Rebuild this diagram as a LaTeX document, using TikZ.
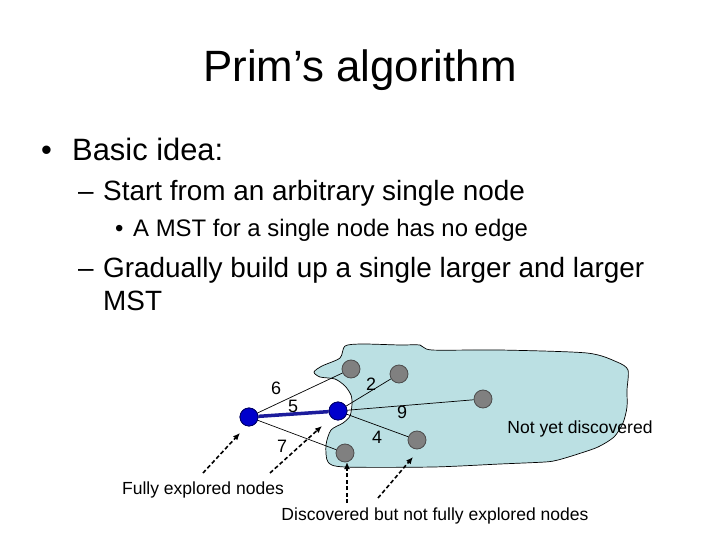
\documentclass[tikz,border=0pt]{standalone}
\usepackage{fontspec}
\setmainfont{Liberation Sans}
\usetikzlibrary{arrows.meta}
\definecolor{blobfill}{RGB}{187,224,227}
\definecolor{nodegray}{RGB}{128,128,128}
\definecolor{nodeblue}{RGB}{0,0,204}
\definecolor{edgeblue}{RGB}{28,28,156}
\tikzset{
  graynode/.style={circle,fill=nodegray,draw=black!70,line width=0.8bp,minimum size=18bp,inner sep=0pt},
  bluenode/.style={circle,fill=nodeblue,draw=blue!40!black,line width=0.8bp,minimum size=18bp,inner sep=0pt},
  thinedge/.style={draw=black,line width=0.7bp},
  mstedge/.style={draw=edgeblue,line width=3.5bp},
  weight/.style={font=\fontsize{18}{18}\selectfont,inner sep=0pt},
  pointer/.style={dashed,dash pattern=on 4bp off 2.5bp,line width=1.6bp,-{Latex[length=7bp,width=6bp]}},
  caption/.style={font=\fontsize{17.6}{18}\selectfont,inner sep=0pt},
  txt/.style={anchor=base west,inner sep=0pt}
}
\begin{document}
\begin{tikzpicture}[x=1bp,y=-1bp]
\useasboundingbox (0,0) rectangle (720,540);
% title
\node[anchor=base,inner sep=0pt,font=\fontsize{44}{44}\selectfont] (title) at (360,82) {Prim’s algorithm};
% bullets
\node[txt,font=\fontsize{31}{31}\selectfont] (b1) at (41,161) {•};
\node[txt,font=\fontsize{31}{31}\selectfont] (t1) at (72,161) {Basic idea:};
\node[txt,font=\fontsize{28}{28}\selectfont] (b2) at (78,201) {–};
\node[txt,font=\fontsize{28}{28}\selectfont] (t2) at (103,201) {Start from an arbitrary single node};
\node[txt,font=\fontsize{24}{24}\selectfont] (b3) at (115,237) {•};
\node[txt,font=\fontsize{24}{24}\selectfont] (t3) at (133,237) {A MST for a single node has no edge};
\node[txt,font=\fontsize{28}{28}\selectfont] (b4) at (78,278) {–};
\node[txt,font=\fontsize{28}{28}\selectfont] (t4) at (103,278) {Gradually build up a single larger and larger};
\node[txt,font=\fontsize{28}{28}\selectfont] (t5) at (103,310) {MST};
% blob
\draw[fill=blobfill,draw=black,line width=0.7bp] plot[smooth cycle,tension=0.45] coordinates {
(345,346) (362,344) (400,345) (420,345) (432,350) (500,350) (587,353) (617,362) (628,370)
(627,390) (627,407) (623,423) (614,437) (598,447) (578,454) (558,460) (545,462) (500,464)
(433,467) (345,467) (328,462) (326,445) (331,430) (343,423) (350,416) (352,404) (351,395)
(345,386) (335,379) (320,377) (314,372) (322,366) (340,358)};
% nodes
\node[bluenode] (a) at (249,417) {};
\node[bluenode] (b) at (338,411) {};
\node[graynode] (c) at (351,369) {};
\node[graynode] (d) at (399,374) {};
\node[graynode] (e) at (345,453) {};
\node[graynode] (f) at (417,440) {};
\node[graynode] (g) at (483,399) {};
% edges
\draw[thinedge] (a) -- (c);
\draw[thinedge] (a) -- (e);
\draw[thinedge] (b) -- (d);
\draw[thinedge] (b) -- (g);
\draw[thinedge] (b) -- (f);
\draw[mstedge] (a) -- (b);
\node[bluenode] at (a) {};
\node[bluenode] at (b) {};
% weights
\node[weight] (w6) at (276,388) {6};
\node[weight] (w5) at (293,406) {5};
\node[weight] (w2) at (371,384) {2};
\node[weight] (w9) at (402,412) {9};
\node[weight] (w4) at (377,437) {4};
\node[weight] (w7) at (282,446) {7};
% captions
\node[caption] (nyd) at (580,429) {Not yet discovered};
\node[caption] (fen) at (203,490) {Fully explored nodes};
\node[caption] (dnf) at (435,516) {Discovered but not fully explored nodes};
% pointers
\coordinate (p1s) at (203,473); \coordinate (p1e) at (240,433);
\coordinate (p2s) at (270,473); \coordinate (p2e) at (322,426);
\coordinate (p3s) at (347,503); \coordinate (p3e) at (347,462);
\coordinate (p4s) at (378,498); \coordinate (p4e) at (413,457);
\draw[pointer] (p1s) -- (p1e);
\draw[pointer] (p2s) -- (p2e);
\draw[pointer] (p3s) -- (p3e);
\draw[pointer] (p4s) -- (p4e);
\end{tikzpicture}
\end{document}
